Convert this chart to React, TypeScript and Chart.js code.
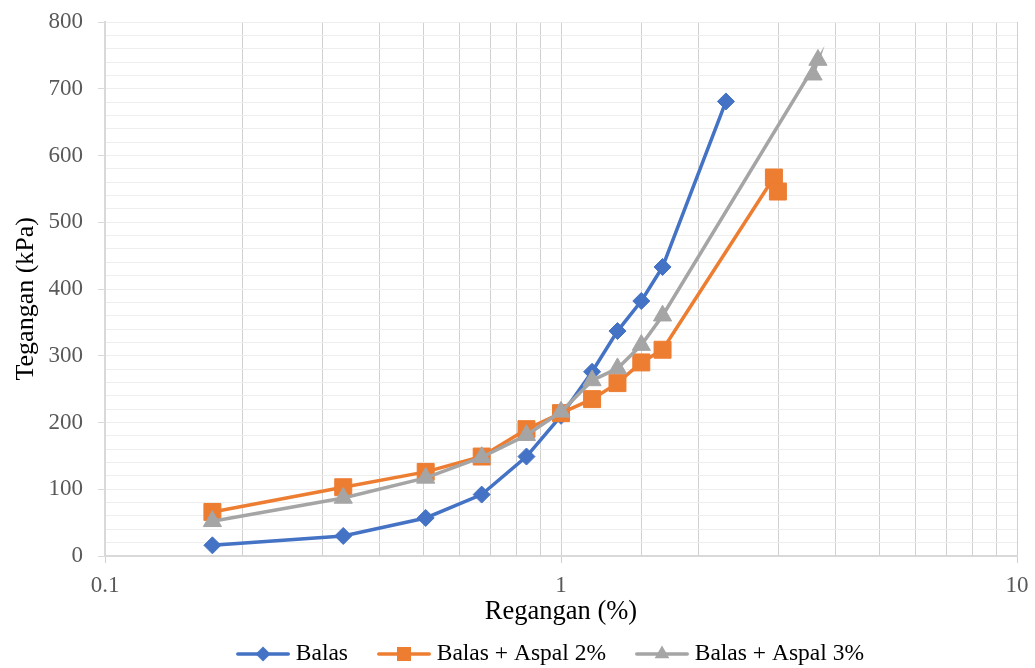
import React, { useEffect, useRef } from "react";
import { Chart, registerables } from "chart.js";

Chart.register(...registerables);

const seriesNames = ["Balas", "Balas + Aspal 2%", "Balas + Aspal 3%"];
const seriesColors = ["#4472C4", "#ED7D31", "#A5A5A5"];
const seriesMarkers = ["rectRot", "rect", "triangle"];

const balasX = [0.172, 0.333, 0.505, 0.67, 0.84, 1.0, 1.17, 1.33, 1.5, 1.67, 2.3];
const balasY = [16, 30, 57, 92, 149, 210, 276, 337, 382, 433, 681];

const aspal2X = [0.172, 0.333, 0.505, 0.67, 0.84, 1.0, 1.17, 1.33, 1.5, 1.67, 2.93, 2.99];
const aspal2Y = [66, 103, 126, 149, 190, 214, 235, 259, 290, 309, 567, 546];

const aspal3X = [0.172, 0.333, 0.505, 0.67, 0.84, 1.0, 1.17, 1.33, 1.5, 1.67, 3.66, 3.57];
const aspal3Y = [52, 87, 117, 148, 181, 216, 263, 281, 316, 360, 743, 721];

const xTitle = "Regangan (%)";
const yTitle = "Tegangan (kPa)";
const yMin = 0;
const yMax = 800;
const xMin = 0.1;
const xMax = 10;

const FONT = "'Liberation Serif', 'Times New Roman', serif";

function makeIcon(color: string, marker: string): HTMLCanvasElement {
  const W = 79;
  const H = 22;
  const c = document.createElement("canvas");
  c.width = W;
  c.height = H;
  const ctx = c.getContext("2d")!;
  const x0 = 25;
  const x1 = 79;
  const cy = H / 2;
  ctx.strokeStyle = color;
  ctx.lineWidth = 3.5;
  ctx.lineCap = "round";
  ctx.beginPath();
  ctx.moveTo(x0 + 1.75, cy);
  ctx.lineTo(x1 - 1.75, cy);
  ctx.stroke();
  const cx = (x0 + x1) / 2;
  ctx.fillStyle = color;
  ctx.beginPath();
  if (marker === "rectRot") {
    const r = 7.5;
    ctx.moveTo(cx, cy - r);
    ctx.lineTo(cx + r, cy);
    ctx.lineTo(cx, cy + r);
    ctx.lineTo(cx - r, cy);
    ctx.closePath();
  } else if (marker === "rect") {
    const h = 7;
    ctx.rect(cx - h, cy - h, 2 * h, 2 * h);
  } else {
    const r = 8.5;
    ctx.moveTo(cx, cy - r);
    ctx.lineTo(cx + r * 0.866, cy + r * 0.5);
    ctx.lineTo(cx - r * 0.866, cy + r * 0.5);
    ctx.closePath();
  }
  ctx.fill();
  return c;
}

function isPow10(v: number) {
  const l = Math.log10(v);
  return Math.abs(l - Math.round(l)) < 1e-9;
}

const shiftLegend = {
  id: "shiftLegend",
  afterLayout(chart: any) {
    if (chart.legend) {
      chart.legend.left += 53;
    }
  },
};

export default function App() {
  const ref = useRef<HTMLCanvasElement | null>(null);

  useEffect(() => {
    if (!ref.current) return;
    const xs = [balasX, aspal2X, aspal3X];
    const ys = [balasY, aspal2Y, aspal3Y];
    const radii = [8.5, 12, 10.5];
    const icons = seriesColors.map((c, i) => makeIcon(c, seriesMarkers[i]));

    const datasets = seriesNames.map((name, i) => ({
      label: name,
      data: xs[i].map((x, j) => ({ x, y: ys[i][j] })),
      borderColor: seriesColors[i],
      backgroundColor: seriesColors[i],
      borderWidth: 3.5,
      pointStyle: seriesMarkers[i] as any,
      pointRadius: radii[i],
      pointBorderWidth: 1,
      pointBackgroundColor: seriesColors[i],
      pointBorderColor: seriesColors[i],
      showLine: true,
      tension: 0,
      order: 3 - i,
    }));

    const chart = new Chart(ref.current, {
      type: "scatter",
      data: { datasets },
      plugins: [shiftLegend],
      options: {
        animation: false,
        responsive: true,
        maintainAspectRatio: false,
        layout: { padding: { left: 11, right: 18, top: 22, bottom: -7.75 } },
        plugins: {
          tooltip: { enabled: false },
          legend: {
            position: "bottom",
            labels: {
              usePointStyle: true,
              pointStyleWidth: 67,
              padding: 10,
              color: "#000000",
              font: { family: FONT, size: 23.5 },
              generateLabels: (ch: any) =>
                ch.data.datasets.map((ds: any, i: number) => ({
                  text: ds.label,
                  pointStyle: icons[i],
                  fillStyle: seriesColors[i],
                  strokeStyle: seriesColors[i],
                  lineWidth: 0,
                  hidden: false,
                  datasetIndex: i,
                  fontColor: "#000000",
                })),
            },
          },
        },
        scales: {
          x: {
            type: "logarithmic",
            min: xMin,
            max: xMax,
            afterFit: (s: any) => {
              s.height = 76.25;
            },
            grid: {
              color: "#d0d0d0",
              lineWidth: 1,
              tickLength: 7,
              tickColor: (ctx: any) =>
                ctx.tick && isPow10(ctx.tick.value) ? "#d0d0d0" : "rgba(0,0,0,0)",
            },
            border: { color: "#d9d9d9", width: 2 },
            ticks: {
              autoSkip: false,
              maxRotation: 0,
              padding: 6,
              color: "#595959",
              font: { family: FONT, size: 23, lineHeight: 1.5 },
              callback: (v: any) => {
                const n = Number(v);
                if (!isPow10(n)) return "";
                return String(Math.pow(10, Math.round(Math.log10(n))));
              },
            },
            title: {
              display: true,
              text: xTitle,
              color: "#000000",
              font: { family: FONT, size: 26.5 },
              padding: { top: 0, bottom: 4 },
            },
          },
          y: {
            min: yMin,
            max: yMax,
            afterFit: (s: any) => {
              s.width = 94;
            },
            grid: {
              color: "#eeeeee",
              lineWidth: 1,
              tickLength: 7,
              tickColor: (ctx: any) =>
                ctx.tick && ctx.tick.value % 100 === 0 ? "#d9d9d9" : "rgba(0,0,0,0)",
            },
            border: { color: "#d9d9d9", width: 2 },
            ticks: {
              autoSkip: false,
              stepSize: 20,
              padding: 15,
              color: "#595959",
              font: { family: FONT, size: 23, lineHeight: 0.6 },
              callback: (v: any) => (Number(v) % 100 === 0 ? String(v) : ""),
            },
            title: {
              display: true,
              text: yTitle + "   ",
              color: "#000000",
              font: { family: FONT, size: 26 },
              padding: { top: 0, bottom: 0 },
            },
          },
        },
      },
    });
    return () => chart.destroy();
  }, []);

  return (
    <div style={{ position: "absolute", left: 0, top: 0, width: 1035, height: 668, background: "#ffffff" }}>
      <canvas ref={ref} />
    </div>
  );
}
